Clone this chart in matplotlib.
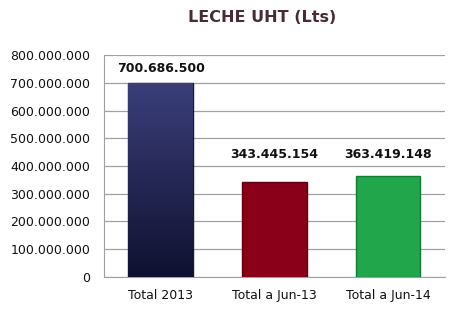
import numpy as np
import matplotlib.pyplot as plt
from matplotlib.ticker import FuncFormatter
from matplotlib.colors import LinearSegmentedColormap

categories = ['Total 2013', 'Total a Jun-13', 'Total a Jun-14']
values = [700686500, 343445154, 363419148]
value_labels = ['700.686.500', '343.445.154', '363.419.148']
colors = ['#262a5a', '#8a0018', '#21a64b']
edges = ['#14163a', '#5e0010', '#137a33']

def miles(v, pos):
    return f'{int(v):,}'.replace(',', '.')

fig = plt.figure(figsize=(4.6, 3.15), dpi=100)
ax = fig.add_axes([0.226, 0.121, 0.741, 0.704])

x = np.arange(len(categories))
bars = ax.bar(x, values, width=0.57, color=colors, edgecolor=edges, linewidth=1, zorder=3)

# degradado en la barra azul (mas clara arriba)
cmap = LinearSegmentedColormap.from_list('azul', ['#0f1130', '#3b3f7a'])
b = bars[0]
grad = np.linspace(0, 1, 256).reshape(-1, 1)
im = ax.imshow(grad, cmap=cmap, aspect='auto', origin='lower', zorder=3.5,
               extent=[b.get_x(), b.get_x() + b.get_width(), 0, b.get_height()])
im.set_clip_path(b)

# etiquetas de valor
ax.text(x[0], 752e6, value_labels[0], ha='center', va='center', fontsize=9, fontweight='bold', color='#111111')
for i in (1, 2):
    ax.text(x[i], 443e6, value_labels[i], ha='center', va='center', fontsize=9, fontweight='bold', color='#111111')

ax.set_ylim(0, 800e6)
ax.set_xlim(-0.5, 2.5)
ax.set_yticks(np.arange(0, 800e6 + 1, 100e6))
ax.yaxis.set_major_formatter(FuncFormatter(miles))
ax.set_xticks(x)
ax.set_xticklabels(categories)
ax.tick_params(axis='both', length=0, labelsize=9, colors='#111111')
ax.tick_params(axis='y', pad=10)
ax.tick_params(axis='x', pad=9)
ax.grid(axis='y', color='#a0a0a0', linewidth=0.9, zorder=0)
for s in ['top', 'right']:
    ax.spines[s].set_visible(False)
ax.spines['left'].set_color('#a0a0a0')
ax.spines['bottom'].set_color('#a0a0a0')

fig.text(0.57, 0.943, 'LECHE UHT (Lts)', ha='center', va='center', fontsize=11.5, fontweight='bold', color='#4a2a33')

fig.savefig('out.png', dpi=100)
